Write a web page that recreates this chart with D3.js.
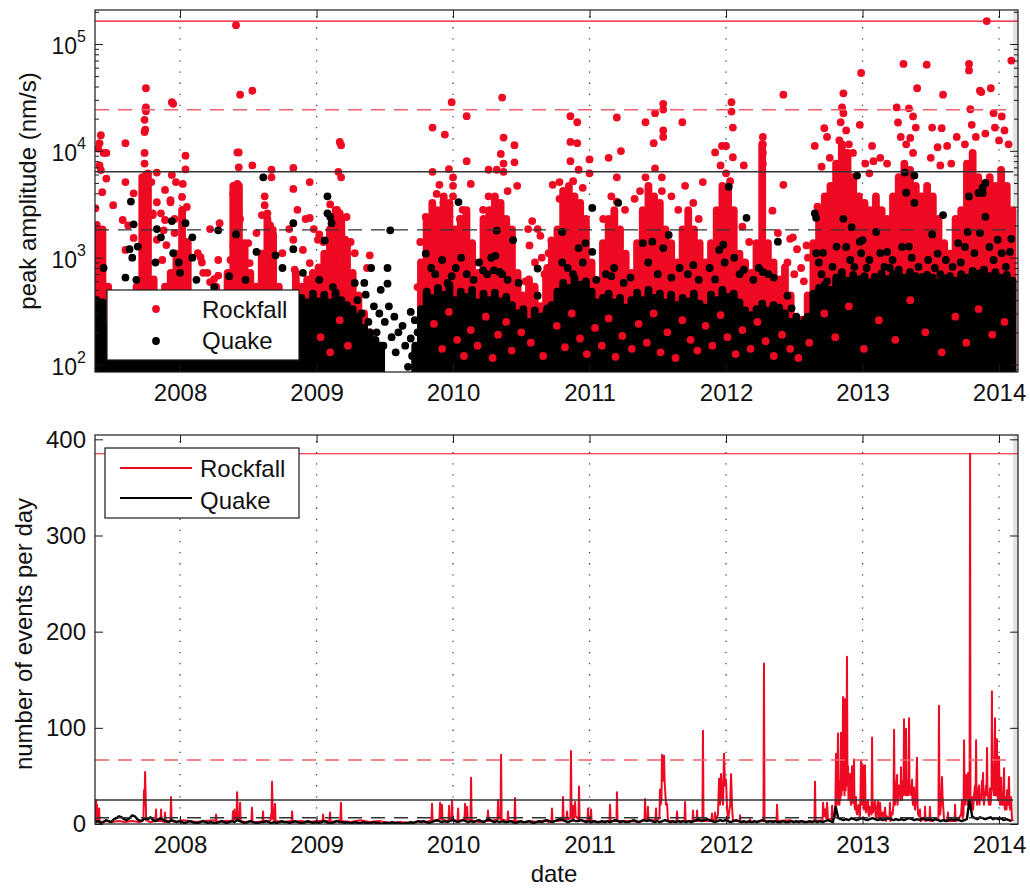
<!DOCTYPE html>
<html>
<head>
<meta charset="utf-8">
<script src="https://cdn.jsdelivr.net/npm/d3@7"></script>
<style>
  body { margin: 0; background: #fff; }
  svg { font-family: "Liberation Sans", Arial, Helvetica, sans-serif; }
</style>
</head>
<body>
<svg id="chart" width="1030" height="888"></svg>
<script>
// ---- data ----
const years = [2008, 2009, 2010, 2011, 2012, 2013, 2014];
const xDomain = [2007.377, 2014.139];
const dataEnd = 2014.103;
const countTicks = [0, 100, 200, 300, 400];

// reference levels
const rockAmpMax = 1.64e5, rockAmpRef = 2.42e4, quakeAmpMax = 6.35e3, quakeAmpRef = 1.82e3;
const rockCountMax = 385, rockCountRef = 66.5, quakeCountMax = 25, quakeCountRef = 6.5;

// packed dots: top (nm/s) of the dense core in each half-month bin
const binStart = 2007.39, binsPerYear = 24;
const rockBinTop = [
  2030,1840,534,352,307,352,443,534,5660,6150,
  625,443,534,718,1090,2780,1370,443,352,352,
  443,534,443,718,4700,4700,1370,718,534,1090,
  2310,1650,534,443,443,718,534,625,718,809,
  1090,1840,2780,2310,1370,718,443,300,200,150,
  0,0,0,0,0,0,129,900,2310,3260,
  2780,3740,3260,1840,2310,2780,1370,718,2310,2780,
  3740,3260,2310,1840,718,443,625,534,352,718,
  1370,1840,4220,4700,3740,3260,2310,900,534,1370,
  2310,2780,1840,1090,718,1370,2780,4700,3740,3260,
  1840,1370,900,1840,2780,1840,1370,900,1370,2780,
  4700,4220,2780,1090,900,718,1370,11530,1370,900,
  625,809,443,262,262,443,1370,2780,3740,4700,
  7600,11530,9550,5660,3740,3260,2780,3740,2780,2310,
  3740,5660,7600,6640,4700,3740,4700,3740,2310,1370,
  1090,2310,2780,7600,9550,5660,4700,5660,4700,6640,
  4700,2780
];
const quakeBinTop = [
  400,380,220,200,240,210,230,250,280,240,
  270,250,290,320,260,280,330,250,270,240,
  260,290,250,270,320,280,250,290,240,270,
  280,250,300,260,290,330,420,380,460,390,
  450,380,470,400,360,330,280,220,200,170,
  150,0,0,0,0,0,150,330,480,420,
  520,450,560,400,480,430,500,380,460,400,
  470,390,430,360,300,330,250,320,280,300,
  360,480,580,520,640,560,600,480,380,420,
  460,380,420,340,400,470,400,500,420,460,
  380,450,360,420,390,460,370,340,450,400,
  500,430,460,380,320,290,330,370,320,360,
  340,300,250,280,240,280,460,520,560,500,
  650,730,610,690,630,670,590,650,710,630,
  700,770,650,730,670,610,690,650,590,640,
  670,610,700,650,750,710,770,670,730,650,
  690,610
];

// single events standing out from the packed dots [year, nm/s]
const rockPeaks = [
  [2007.38,2900],[2007.41,11800],[2007.42,14000],[2007.40,10500],[2007.44,9550],[2007.46,9550],[2007.41,7300],[2007.43,4100],[2007.46,5500],[2007.42,6600],
  [2007.60,11800],[2007.60,5100],[2007.66,4000],[2007.62,2000],
  [2007.75,38500],[2007.75,25500],[2007.75,23500],[2007.74,19500],[2007.745,15800],[2007.74,15000],[2007.74,9550],[2007.75,5950],[2007.74,7600],[2007.75,4700],[2007.74,3700],[2007.745,3100],
  [2007.83,6250],[2007.89,4300],[2007.83,3300],[2007.80,2500],[2007.86,2600],[2007.88,1800],
  [2007.94,28500],[2007.95,27500],[2007.94,5950],[2007.97,5100],[2007.93,3300],[2007.96,2300],
  [2008.04,9000],[2008.04,6700],[2008.02,4900],[2008.015,3700],[2008.02,2800],[2008.05,1400],
  [2008.13,1100],[2008.16,900],[2008.22,1850],[2008.29,2100],[2008.20,720],[2008.25,630],
  [2008.41,1.5e5],[2008.44,33500],[2008.53,36500],[2008.42,9650],[2008.43,9650],[2008.43,7000],[2008.53,7300],[2008.42,4900],[2008.39,3900],[2008.43,2800],[2008.44,2300],
  [2008.67,6650],[2008.67,5650],[2008.62,3750],[2008.62,3100],[2008.60,2500],[2008.66,2000],
  [2008.83,6900],[2008.83,4400],[2008.86,2800],[2008.80,1850],
  [2008.95,5100],[2008.92,2300],[2008.98,1850],
  [2009.17,12100],[2009.18,11300],[2009.16,6350],[2009.18,5650],[2009.15,2800],
  [2009.02,1650],[2009.05,1400],[2009.10,3150],[2009.22,2400],[2009.25,1400],[2009.28,1100],
  [2009.39,1050],[2009.37,800],
  [2007.51,3100],[2007.58,2250],[2007.60,1180],[2007.66,1530],[2007.79,5100],[2007.80,2600],[2007.83,1470],[2007.87,950],[2007.89,2250],[2007.90,1310],
  [2007.93,3450],[2007.96,1700],[2008.00,820],[2008.05,2980],[2008.15,1010],[2008.17,720],[2008.22,590],[2008.28,950],[2008.28,680],[2008.37,950],
  [2008.39,1310],[2008.50,1370],[2008.51,890],[2008.56,1700],[2008.64,2600],[2008.68,1820],[2008.68,820],[2008.75,1100],[2008.83,1470],[2008.84,770],
  [2008.90,1180],[2008.95,2350],[2008.95,890],[2009.01,1470],[2009.04,580],[2009.12,950],[2009.17,2600],[2009.21,1470],[2009.21,820],
  [2009.85,16500],[2009.94,14200],[2009.99,28500],[2009.85,6350],[2009.90,4800],[2009.97,6750],[2010.0,5650],[2010.0,4700],[2010.0,3750],[2009.88,3950],[2009.93,3250],[2009.80,2400],[2009.76,1400],[2009.74,530],
  [2010.10,21100],[2010.10,8000],[2010.13,4900],[2010.07,2800],[2010.05,2300],
  [2010.26,6650],[2010.32,6650],[2010.26,3750],[2010.22,2800],[2010.30,2300],
  [2010.36,31500],[2010.37,13300],[2010.35,9350],[2010.37,7600],[2010.37,6350],[2010.45,11300],[2010.45,7800],[2010.40,4200],[2010.47,4700],
  [2010.58,2200],[2010.55,1850],[2010.62,1850],[2010.72,1450],[2010.73,1200],[2010.65,1000],[2010.69,800],
  [2010.56,1300],[2010.60,900],[2010.64,1600],[2010.67,700],[2010.70,1100],[2010.53,600],
  [2010.78,5100],[2010.73,4800],[2010.78,3550],
  [2010.86,21100],[2010.91,18500],[2010.86,12100],[2010.91,11800],[2010.86,8000],[2010.92,6650],[2011.00,8300],[2011.00,6150],[2010.88,5200],[2010.95,4500],
  [2011.14,8600],[2011.23,9950],[2011.20,20500],[2011.20,5650],[2011.20,3350],[2011.16,3750],[2011.10,2300],[2011.26,2800],
  [2011.41,18500],[2011.48,22500],[2011.54,27500],[2011.54,24300],[2011.54,15500],[2011.54,13500],[2011.47,11800],[2011.68,18500],[2011.48,6850],[2011.41,5650],[2011.53,5650],[2011.53,4200],[2011.37,4200],[2011.33,3550],[2011.60,3750],[2011.65,2800],
  [2011.70,4700],[2011.83,5100],[2011.76,3250],[2011.80,2300],
  [2011.92,9650],[2011.97,11100],[2012.0,11100],[2012.05,8700],[2011.96,7300],[2012.04,28500],[2012.04,23300],[2012.05,16500],[2012.00,6150],[2012.03,5200],
  [2012.13,7300],[2012.12,1950],[2012.17,1400],
  [2012.27,13500],[2012.27,11500],[2012.27,9550],[2012.27,7600],
  [2012.34,2750],[2012.38,1700],[2012.42,33500],[2012.42,4800],[2012.49,1550],[2012.59,1300],[2012.55,800],
  [2012.45,900],[2012.50,700],[2012.52,1200],[2012.57,600],[2012.60,1000],[2012.47,1500],
  [2012.65,11100],[2012.72,16300],[2012.74,13500],[2012.67,3000],[2012.70,7100],[2012.76,8600],
  [2012.86,34500],[2012.85,25500],[2012.86,22500],[2012.84,18500],[2012.99,53500],[2012.98,17500],[2012.88,15500],[2012.83,12500],[2012.90,11500],[2012.93,9550],
  [2013.07,11100],[2013.08,8000],[2013.18,7600],[2013.13,8600],[2013.02,7600],[2013.05,6150],
  [2013.30,65000],[2013.25,25500],[2013.34,25000],[2013.37,21000],[2013.40,38500],[2013.35,13200],[2013.26,18400],[2013.39,16500],[2013.37,9550],[2013.28,13500],[2013.32,11500],
  [2013.47,64000],[2013.59,33500],[2013.51,16500],[2013.58,16300],[2013.62,11100],[2013.69,13500],[2013.55,10800],[2013.57,7300],[2013.50,8600],[2013.65,7600],
  [2013.78,65000],[2013.78,56500],[2013.86,36500],[2013.87,35500],[2013.94,38500],[2013.91,1.64e5],[2014.09,70000],[2013.79,24500],[2013.96,22500],[2014.02,21000],[2014.04,15500],[2013.97,16500],[2013.80,17500],[2013.83,13500],[2013.90,14500],[2014.07,11500],[2014.00,12500],[2013.75,11500]
];
// rockfalls visible between the packed quakes near the floor
const rockLow = [
  [2009.03,180],[2009.10,130],[2009.17,260],[2009.23,150],
  [2009.86,240],[2009.92,140],[2009.97,310],[2010.03,170],[2010.08,120],[2010.13,210],[2010.18,150],[2010.24,280],[2010.29,115],[2010.33,190],
  [2010.39,250],[2010.43,135],[2010.50,200],[2010.57,160],[2010.66,120],[2010.76,230],[2010.82,145],[2010.87,300],[2010.93,175],[2010.98,125],
  [2011.04,220],[2011.09,150],[2011.14,270],[2011.19,118],[2011.24,185],[2011.31,140],[2011.36,240],[2011.42,160],[2011.47,300],[2011.52,130],
  [2011.57,200],[2011.63,115],[2011.68,260],[2011.74,170],[2011.79,135],[2011.85,230],[2011.90,150],[2011.96,290],[2012.01,180],[2012.07,125],
  [2012.12,210],[2012.18,140],[2012.23,250],[2012.29,165],[2012.35,120],[2012.41,190],[2012.47,140],[2012.53,115],[2012.61,160],
  [2012.72,300],[2012.80,180],[2012.90,350],[2013.01,140],[2013.12,260],[2013.24,170],[2013.35,400],[2013.46,200],[2013.58,130],[2013.68,280],
  [2013.76,160],[2013.85,330],[2013.95,190],[2014.04,250]
];
const quakePeaks = [
  [2007.64,3350],[2007.66,2050],[2007.44,800],[2008.61,5650],[2009.08,3750],[2009.08,2600],[2009.11,2100],[2009.10,2400],[2007.94,2200],[2008.04,2100],[2008.09,1550],[2008.09,1000],[2007.83,1850],[2007.86,1550],[2008.28,1800],[2008.41,1650],[2008.83,2100],[2008.83,1200],[2008.56,1130],[2008.70,1050],[2009.06,1450],[2007.63,1200],[2007.65,1000],[2007.69,1270],[2007.82,900],[2007.95,1100],[2007.99,900],[2007.60,650],[2007.68,620],[2008.00,720],[2008.12,620],[2008.25,530],[2008.36,670],[2008.48,620],[2008.75,800],[2008.90,720],[2009.02,620],[2009.12,530],
  [2009.54,1800],[2009.28,580],[2009.35,580],[2009.40,800],[2009.47,500],[2009.52,800],[2009.52,570],[2009.53,350],[2009.57,280],[2009.63,230],[2009.69,175],[2009.69,310],[2009.72,260],[2009.67,95],
  [2009.30,400],[2009.33,300],[2009.36,450],[2009.38,250],[2009.42,350],[2009.44,200],[2009.46,300],[2009.49,150],[2009.50,250],[2009.55,180],[2009.58,130],[2009.60,200],[2009.65,150],[2009.70,120],[2009.74,200],
  [2009.80,1090],[2010.04,3310],[2009.99,670],[2010.32,1790],[2010.31,1040],[2010.22,760],[2010.30,760],[2010.34,735],[2010.44,1460],[2010.62,790],[2010.62,440],[2010.69,335],[2010.80,1740],[2010.92,1230],[2010.97,1370],[2011.02,2920],[2011.02,1130],[2010.80,900],[2011.21,3260],[2011.16,670],[2011.39,1370],[2011.46,1410],[2011.54,1230],[2011.58,1630],[2011.55,350],
  [2009.84,800],[2009.87,700],[2009.92,950],[2009.96,580],[2010.02,800],[2010.06,1000],[2010.10,700],[2010.15,620],[2010.19,900],[2010.25,700],[2010.28,1000],[2010.36,700],[2010.40,620],[2010.48,580],[2010.84,800],[2010.88,700],[2010.95,900],[2011.05,620],
  [2011.12,700],[2011.18,800],[2011.25,580],[2011.30,650],[2011.43,900],[2011.50,700],[2011.60,650],[2011.66,800],[2011.72,700],[2011.80,620],[2011.88,800],[2011.99,900],[2012.06,1000],[2012.10,700],[2012.20,620],[2012.24,800],[2012.31,700],[2012.35,650],
  [2011.76,850],[2012.02,4600],[2012.15,2360],[2011.98,1320],[2011.95,1180],[2011.92,625],[2012.13,770],[2012.27,735],[2012.38,1410],[2012.45,440],[2012.48,335],[2012.58,262],[2012.65,2600],[2012.66,2360],[2012.71,1110],[2012.68,900],[2012.86,2310],[2012.96,5860],[2012.92,1930],[2012.81,1270],[2012.98,1410],[2013.18,1130],[2013.20,800],[2013.31,6250],[2013.32,4060],[2013.38,3260],[2013.38,5860],[2013.34,1270],[2013.51,1650],[2013.59,2500],[2013.55,1090],[2013.90,5000],[2013.88,4510],[2013.88,4030],[2013.85,4030],[2013.78,3740],[2013.90,2410],[2013.77,1740],[2014.08,1130],[2013.70,1370],[2013.10,1740],[2013.00,1460],
  [2012.66,1100],[2012.70,700],[2012.74,600],[2012.78,820],[2012.88,1260],[2012.91,950],[2012.94,820],[2012.99,1100],[2013.03,800],[2013.05,950],[2013.09,660],[2013.13,1100],[2013.16,820],[2013.22,950],[2013.26,700],[2013.29,1260],[2013.36,1000],
  [2013.41,820],[2013.44,660],[2013.48,950],[2013.53,800],[2013.57,700],[2013.61,950],[2013.66,820],[2013.72,900],[2013.75,1260],[2013.82,1100],[2013.86,1700],[2013.93,1260],[2013.96,950],[2013.99,1470],[2014.02,1100],[2014.05,820],[2014.09,1500]
];

// events per day, rockfall [year, count]
const rockDaily = [
  [2007.377,22],[2007.381,4],[2007.385,25],[2007.389,6],[2007.392,20],[2007.396,4],[2007.400,13],[2007.404,3],[2007.407,16],[2007.411,3],[2007.43,2],[2007.46,3],[2007.50,2],[2007.55,3],[2007.60,2],[2007.65,3],[2007.70,2],[2007.725,3],
  [2007.732,6],[2007.736,35],[2007.740,20],[2007.744,54],[2007.748,30],[2007.752,4],
  [2007.78,2],[2007.82,3],[2007.824,15],[2007.828,3],[2007.857,3],[2007.861,15],[2007.865,3],[2007.886,2],[2007.890,12],[2007.894,2],[2007.930,4],[2007.934,28],[2007.938,3],
  [2007.97,2],[2008.02,4],[2008.07,3],[2008.12,2],[2008.18,3],[2008.26,4],[2008.264,10],[2008.268,2],[2008.32,3],
  [2008.384,3],[2008.388,13],[2008.392,4],[2008.399,15],[2008.403,5],[2008.414,6],[2008.418,33],[2008.422,12],[2008.428,4],[2008.436,4],[2008.440,22],[2008.444,3],
  [2008.48,2],[2008.523,3],[2008.527,17],[2008.531,2],[2008.57,2],[2008.604,3],[2008.608,13],[2008.612,2],[2008.640,3],[2008.663,4],[2008.667,10],[2008.670,6],[2008.674,44],[2008.678,20],[2008.683,5],[2008.692,4],[2008.696,21],[2008.700,3],
  [2008.75,2],[2008.817,3],[2008.821,13],[2008.825,2],[2008.88,3],[2008.95,2],[2009.00,3],[2009.044,3],[2009.048,10],[2009.052,3],[2009.095,3],[2009.099,12],[2009.103,2],[2009.14,3],[2009.175,4],[2009.179,22],[2009.183,3],
  [2009.25,2],[2009.32,4],[2009.39,2],[2009.465,3],[2009.54,1],[2009.612,2],[2009.68,1],[2009.758,3],[2009.80,2],[2009.842,4],[2009.846,21],[2009.850,4],[2009.88,3],[2009.901,6],[2009.905,22],[2009.909,6],[2009.915,5],[2009.919,20],[2009.923,5],[2009.95,3],[2009.967,4],[2009.971,19],[2009.975,4],[2009.989,5],[2009.993,25],[2009.997,5],
  [2010.033,3],[2010.037,16],[2010.041,3],[2010.084,5],[2010.088,21],[2010.092,6],[2010.099,5],[2010.103,18],[2010.107,5],[2010.128,4],[2010.132,48],[2010.136,4],
  [2010.19,2],[2010.252,3],[2010.256,14],[2010.260,3],[2010.30,4],[2010.326,5],[2010.330,25],[2010.334,6],[2010.348,5],[2010.352,72],[2010.356,5],[2010.399,3],[2010.403,13],[2010.407,3],[2010.450,3],[2010.454,27],[2010.458,3],
  [2010.52,2],[2010.564,3],[2010.62,2],[2010.674,4],[2010.70,2],[2010.721,3],[2010.725,16],[2010.729,3],[2010.77,3],[2010.802,4],[2010.806,28],[2010.810,4],[2010.831,5],[2010.835,13],[2010.839,5],[2010.860,6],[2010.864,76],[2010.868,10],[2010.875,6],[2010.879,19],[2010.883,6],[2010.890,8],[2010.894,23],[2010.898,8],[2010.919,5],[2010.923,39],[2010.927,5],
  [2010.96,3],[2010.985,4],[2010.989,16],[2010.993,4],[2011.007,3],[2011.011,15],[2011.015,3],[2011.08,2],[2011.146,3],[2011.150,20],[2011.154,3],[2011.197,3],[2011.201,33],[2011.205,3],
  [2011.297,3],[2011.36,2],[2011.403,5],[2011.407,26],[2011.411,5],[2011.424,4],[2011.428,18],[2011.432,4],[2011.483,4],[2011.487,16],[2011.491,4],[2011.512,6],[2011.516,36],[2011.520,20],[2011.527,25],[2011.531,72],[2011.535,50],[2011.542,45],[2011.546,71],[2011.550,45],[2011.560,20],[2011.568,21],[2011.574,4],
  [2011.62,2],[2011.637,3],[2011.641,13],[2011.645,3],[2011.696,3],[2011.700,23],[2011.704,3],[2011.754,3],[2011.758,14],[2011.762,3],[2011.784,3],[2011.788,14],[2011.792,3],[2011.827,3],[2011.831,97],[2011.835,3],[2011.893,3],[2011.897,11],[2011.901,3],[2011.915,3],[2011.919,12],[2011.923,3],
  [2011.941,10],[2011.949,47],[2011.956,20],[2011.963,52],[2011.971,30],[2011.978,20],[2011.985,73],[2011.993,40],[2012.000,46],[2012.008,15],[2012.015,5],[2012.030,20],[2012.037,52],[2012.044,18],[2012.051,3],
  [2012.099,3],[2012.103,9],[2012.107,2],[2012.172,2],[2012.176,5],[2012.180,2],[2012.274,3],[2012.278,167],[2012.282,3],[2012.370,3],[2012.374,20],[2012.378,3],[2012.469,4],[2012.50,2],[2012.542,3],[2012.60,2],[2012.648,3],[2012.652,44],[2012.656,3],
  [2012.707,4],[2012.711,22],[2012.718,8],[2012.725,15],[2012.733,6],[2012.740,22],[2012.747,5],[2012.773,5],[2012.777,19],[2012.784,5],[2012.800,8],
  [2012.806,73],[2012.809,25],[2012.813,40],[2012.816,20],[2012.820,94],[2012.824,30],[2012.828,40],[2012.831,20],[2012.835,45],[2012.838,25],[2012.842,95],[2012.846,30],[2012.850,50],[2012.853,35],[2012.857,132],[2012.861,40],[2012.864,60],[2012.868,30],[2012.872,130],[2012.876,35],[2012.879,45],[2012.883,50],[2012.886,174],[2012.890,40],[2012.894,60],[2012.897,25],[2012.901,30],[2012.905,45],[2012.908,52],[2012.912,25],[2012.916,20],[2012.919,40],[2012.923,60],[2012.927,22],[2012.930,25],[2012.934,40],[2012.938,67],[2012.941,20],[2012.945,15],[2012.949,25],[2012.952,28],[2012.956,12],[2012.960,10],[2012.967,18],[2012.974,20],[2012.978,8],[2012.981,8],[2012.985,30],[2012.989,66],[2012.992,25],[2012.996,20],
  [2013.000,35],[2013.004,61],[2013.008,20],[2013.011,15],[2013.015,30],[2013.018,61],[2013.022,20],[2013.026,12],[2013.033,20],[2013.040,25],[2013.044,10],[2013.048,8],[2013.055,18],[2013.062,15],[2013.066,10],[2013.070,90],[2013.074,15],[2013.077,12],[2013.084,20],[2013.092,24],[2013.096,8],[2013.099,5],[2013.106,15],[2013.114,24],[2013.118,8],[2013.121,5],[2013.128,22],[2013.135,10],[2013.143,4],[2013.150,12],[2013.158,8],[2013.165,17],[2013.172,3],[2013.18,8],[2013.19,5],[2013.197,6],[2013.201,22],[2013.205,3],
  [2013.215,12],[2013.220,10],[2013.227,20],[2013.231,98],[2013.235,30],[2013.238,20],[2013.245,35],[2013.253,51],[2013.256,20],[2013.260,25],[2013.267,40],[2013.275,32],[2013.278,25],[2013.282,59],[2013.285,30],[2013.289,25],[2013.296,45],[2013.300,30],[2013.304,109],[2013.307,35],[2013.311,40],[2013.315,30],[2013.319,99],[2013.322,40],[2013.326,30],[2013.330,35],[2013.333,45],[2013.337,30],[2013.341,110],[2013.344,40],[2013.348,35],[2013.355,30],[2013.363,46],[2013.366,25],[2013.370,20],[2013.374,30],[2013.377,38],[2013.381,20],[2013.385,15],[2013.392,30],[2013.399,69],[2013.403,20],[2013.407,10],[2013.414,8],[2013.421,15],[2013.424,5],[2013.428,3],
  [2013.44,5],[2013.454,4],[2013.458,18],[2013.462,3],[2013.475,5],[2013.490,4],[2013.494,18],[2013.498,3],[2013.515,3],[2013.530,5],[2013.556,5],[2013.560,123],[2013.564,10],[2013.568,10],[2013.575,20],[2013.582,49],[2013.586,30],[2013.590,20],[2013.597,5],[2013.622,3],[2013.626,12],[2013.630,3],[2013.655,3],[2013.674,3],[2013.678,20],[2013.682,3],[2013.700,4],
  [2013.714,8],[2013.722,10],[2013.729,25],[2013.733,6],[2013.740,10],[2013.744,87],[2013.748,25],[2013.751,20],[2013.755,30],[2013.758,51],[2013.762,25],[2013.766,30],[2013.769,20],[2013.773,53],[2013.777,25],[2013.780,20],[2013.784,20],[2013.788,385],[2013.791,20],[2013.795,15],[2013.799,25],[2013.802,28],[2013.806,20],[2013.810,15],[2013.817,30],[2013.824,40],[2013.828,25],[2013.832,87],[2013.835,30],[2013.839,20],[2013.846,30],[2013.853,40],[2013.857,20],[2013.861,30],[2013.868,25],[2013.875,45],[2013.879,30],[2013.883,53],[2013.886,25],[2013.890,20],[2013.897,30],
  [2013.905,40],[2013.908,30],[2013.912,79],[2013.916,30],[2013.919,30],[2013.926,20],[2013.934,37],[2013.937,20],[2013.941,25],[2013.945,40],[2013.948,138],[2013.952,40],[2013.956,40],[2013.963,30],[2013.971,110],[2013.974,30],[2013.978,30],[2013.982,40],[2013.985,88],[2013.989,30],[2013.993,25],[2013.996,30],[2014.000,70],[2014.004,25],[2014.007,20],[2014.011,30],[2014.015,48],[2014.018,20],[2014.022,25],[2014.029,20],[2014.037,58],[2014.040,20],[2014.044,15],[2014.051,28],[2014.055,15],[2014.059,35],[2014.066,20],[2014.073,49],[2014.077,20],[2014.081,15],[2014.088,28],[2014.095,5],[2014.103,3]
];

// events per day, quakes, one reading per week from quakeStart
const quakeStart = 2007.38, quakeStep = 1 / 52;
const quakeWeekly = [
  2,3,1,2,4,3,2,5,6,8,7,5,4,6,9,8,5,3,4,6,5,7,4,3,5,6,4,3,2,4,3,2,
  3,2,1,2,3,2,1,1,2,3,2,1,2,1,1,2,3,2,1,2,3,2,4,3,2,1,2,3,2,1,1,2,2,3,2,1,2,1,2,3,2,2,1,2,3,2,1,1,2,3,2,1,
  2,1,2,3,2,1,1,2,3,2,2,1,2,1,1,2,1,1,2,1,1,1,2,1,1,0,1,1,1,2,1,1,1,0,1,1,2,1,2,3,2,3,2,1,2,3,4,3,2,3,2,3,
  4,3,2,3,4,3,2,3,2,3,4,3,2,4,5,3,2,3,2,3,2,2,3,2,1,2,3,2,2,3,2,1,2,3,2,3,4,3,2,3,4,5,4,3,2,3,4,3,3,4,3,2,
  3,2,3,2,2,3,2,3,2,3,4,3,2,3,2,2,3,4,3,2,3,4,3,4,3,2,3,2,3,4,3,2,3,2,3,2,3,2,3,2,3,4,5,3,4,5,4,3,2,3,4,3,
  4,3,2,3,4,3,2,3,2,3,2,3,2,3,4,3,2,3,2,3,2,2,3,2,2,3,2,3,2,3,2,2,3,2,3,2,3,2,3,4,3,2,18,6,5,4,5,4,6,5,4,5,
  6,5,4,5,6,5,4,5,4,5,6,5,4,5,4,5,4,5,6,5,4,5,4,6,5,4,5,4,5,4,3,4,3,4,5,4,5,4,3,4,5,25,8,6,5,7,6,5,6,7,5,6,
  5,6,4,5,4,3
];

// ---- drawing ----
const RED = "#ee0a23", INK = "#1a1a1a";
const left = 95, right = 1018;
const p1 = { top: 10, bottom: 372 }, p2 = { top: 435, bottom: 824 };

const svg = d3.select("#chart");
const x = d3.scaleLinear().domain(xDomain).range([left, right]);
const yAmp = d3.scaleLog().domain([85, 2.08e5]).range([p1.bottom, p1.top]);
const yCount = d3.scaleLinear().domain([0, 404.5]).range([p2.bottom, p2.top]);

const defs = svg.append("defs");
[["clip1", p1], ["clip2", p2]].forEach(([id, p]) => {
  defs.append("clipPath").attr("id", id).append("rect")
    .attr("x", left).attr("y", p.top).attr("width", right - left).attr("height", p.bottom - p.top);
});

function grid(p) {
  svg.append("g").selectAll("line").data(years).join("line")
    .attr("x1", d => x(d)).attr("x2", d => x(d))
    .attr("y1", p.top + 6).attr("y2", p.bottom)
    .attr("stroke", "#444").attr("stroke-width", 1.3).attr("stroke-dasharray", "1.3,9.8");
}
grid(p1);
grid(p2);

// gray patch after the last day of data
[p1, p2].forEach(p => {
  svg.append("rect").attr("x", x(dataEnd)).attr("y", p.top)
    .attr("width", right - x(dataEnd)).attr("height", p.bottom - p.top).attr("fill", "#e2e2e2");
});

// ---- top panel: peak amplitudes ----
const g1 = svg.append("g").attr("clip-path", "url(#clip1)");
const bins = (tops) => tops.map((v, i) => [binStart + i / binsPerYear, v]).filter(d => d[1] > 0);

// a packed column of dots from the floor up to the bin top
function cores(tops, color) {
  g1.append("g").selectAll("line").data(bins(tops)).join("line")
    .attr("x1", d => x(d[0])).attr("x2", d => x(d[0]))
    .attr("y1", yAmp.range()[0] + 4).attr("y2", d => yAmp(d[1]))
    .attr("stroke", color).attr("stroke-width", 7.8).attr("stroke-linecap", "round");
}
function dots(data, color) {
  g1.append("g").selectAll("circle").data(data).join("circle")
    .attr("cx", d => x(d[0])).attr("cy", d => yAmp(d[1])).attr("r", 3.9).attr("fill", color);
}
cores(rockBinTop, RED);
dots(rockPeaks, RED);
cores(quakeBinTop, "#000");
dots(rockLow, RED);
dots(quakePeaks, "#000");

function hline(y, x2, color, dash, w) {
  svg.append("line").attr("x1", left).attr("x2", x2).attr("y1", y).attr("y2", y)
    .attr("stroke", color).attr("stroke-width", w).attr("stroke-dasharray", dash);
}
hline(yAmp(rockAmpMax), right, RED, null, 1.2);
hline(yAmp(rockAmpRef), x(dataEnd) - 6, "#f0606c", "14,9", 1.5);
hline(yAmp(quakeAmpMax), x(dataEnd), "#333", null, 1.5);
hline(yAmp(quakeAmpRef), x(dataEnd) - 6, "#333", "14,9", 1.3);

// ---- bottom panel: events per day ----
const g2 = svg.append("g").attr("clip-path", "url(#clip2)");
const line = d3.line().x(d => x(d[0])).y(d => yCount(d[1]));
g2.append("path").datum(rockDaily).attr("d", line)
  .attr("fill", "none").attr("stroke", RED).attr("stroke-width", 2).attr("stroke-linejoin", "round");
g2.append("path").datum(quakeWeekly.map((v, i) => [quakeStart + i * quakeStep, v])).attr("d", line)
  .attr("fill", "none").attr("stroke", "#000").attr("stroke-width", 2.4).attr("stroke-linejoin", "round");

hline(yCount(rockCountMax), right, RED, null, 1.2);
hline(yCount(rockCountRef), x(dataEnd) - 6, "#f0606c", "14,9", 1.5);
hline(yCount(quakeCountMax), x(dataEnd), "#333", null, 1.5);
hline(yCount(quakeCountRef), x(dataEnd) - 6, "#333", "14,9", 1.3);

// ---- axes ----
function styleAxis(g, size) {
  g.select(".domain").remove();
  g.selectAll(".tick line").attr("stroke", INK);
  g.selectAll("text").attr("font-size", size).attr("font-family", null).attr("fill", "#111");
}
[p1, p2].forEach(p => {
  svg.append("g").attr("transform", `translate(0,${p.bottom})`)
    .call(d3.axisBottom(x).tickValues(years).tickFormat(d3.format("d")).tickSize(-8).tickPadding(12))
    .call(g => styleAxis(g, 24));
  svg.append("g").attr("transform", `translate(0,${p.top})`)
    .call(d3.axisTop(x).tickValues(years).tickFormat("").tickSize(-8))
    .call(g => styleAxis(g, 24));
});

// log axis with minor ticks
const majorAmp = [1e2, 1e3, 1e4, 1e5];
const minorAmp = yAmp.ticks().filter(d => !majorAmp.includes(d));
svg.append("g").attr("transform", `translate(${left},0)`)
  .call(d3.axisLeft(yAmp).tickValues(majorAmp).tickSize(-8).tickPadding(9).tickFormat(""))
  .call(g => styleAxis(g, 23))
  .call(g => g.selectAll(".tick text").each(function (d) {
    const t = d3.select(this).attr("dy", 10);
    t.text("10");
    t.append("tspan").attr("dy", -12).attr("font-size", 16).text(Math.round(Math.log10(d)));
  }));
svg.append("g").attr("transform", `translate(${left},0)`)
  .call(d3.axisLeft(yAmp).tickValues(minorAmp).tickSize(-4).tickFormat(""))
  .call(g => styleAxis(g, 23));
svg.append("g").attr("transform", `translate(${right},0)`)
  .call(d3.axisRight(yAmp).tickValues(majorAmp).tickSize(-8).tickFormat(""))
  .call(g => styleAxis(g, 23));
svg.append("g").attr("transform", `translate(${right},0)`)
  .call(d3.axisRight(yAmp).tickValues(minorAmp).tickSize(-4).tickFormat(""))
  .call(g => styleAxis(g, 23));

svg.append("g").attr("transform", `translate(${left},0)`)
  .call(d3.axisLeft(yCount).tickValues(countTicks).tickSize(-8).tickPadding(9))
  .call(g => styleAxis(g, 24));
svg.append("g").attr("transform", `translate(${right},0)`)
  .call(d3.axisRight(yCount).tickValues(countTicks).tickSize(-8).tickFormat(""))
  .call(g => styleAxis(g, 24));

// frames
[p1, p2].forEach(p => {
  svg.append("rect").attr("x", left).attr("y", p.top)
    .attr("width", right - left).attr("height", p.bottom - p.top)
    .attr("fill", "none").attr("stroke", INK).attr("stroke-width", 1.2);
});

// ---- legends ----
const leg1 = svg.append("g");
leg1.append("rect").attr("x", 107).attr("y", 290).attr("width", 192).attr("height", 70)
  .attr("fill", "#fff").attr("stroke", INK).attr("stroke-width", 1.2);
[["Rockfall", RED, 309, 318], ["Quake", "#000", 341, 349]].forEach(([name, c, cy, ty]) => {
  leg1.append("circle").attr("cx", 156).attr("cy", cy).attr("r", 3.9).attr("fill", c);
  leg1.append("text").attr("x", 202).attr("y", ty).attr("font-size", 24).attr("fill", "#111").text(name);
});

const leg2 = svg.append("g");
leg2.append("rect").attr("x", 105).attr("y", 448).attr("width", 194).attr("height", 70)
  .attr("fill", "#fff").attr("stroke", INK).attr("stroke-width", 1.2);
[["Rockfall", RED, 468, 477], ["Quake", "#000", 498, 509]].forEach(([name, c, ly, ty]) => {
  leg2.append("line").attr("x1", 120).attr("x2", 192).attr("y1", ly).attr("y2", ly)
    .attr("stroke", c).attr("stroke-width", 2);
  leg2.append("text").attr("x", 200).attr("y", ty).attr("font-size", 24).attr("fill", "#111").text(name);
});

// ---- axis titles ----
svg.append("text").attr("transform", "translate(36,191) rotate(-90)")
  .attr("text-anchor", "middle").attr("font-size", 24).attr("fill", "#111").text("peak amplitude (nm/s)");
svg.append("text").attr("transform", "translate(32,634) rotate(-90)")
  .attr("text-anchor", "middle").attr("font-size", 24).attr("fill", "#111").text("number of events per day");
svg.append("text").attr("x", 554).attr("y", 882)
  .attr("text-anchor", "middle").attr("font-size", 24).attr("fill", "#111").text("date");
</script>
</body>
</html>
